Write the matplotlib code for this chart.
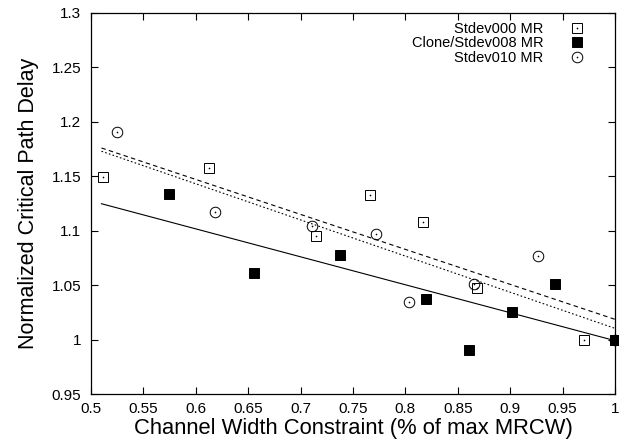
import numpy as np
import matplotlib
matplotlib.use('Agg')
import matplotlib.pyplot as plt
from matplotlib.ticker import FormatStrFormatter

plt.rcParams['font.family'] = ['Liberation Sans', 'DejaVu Sans']

# --- data ---
x000 = [0.511, 0.613, 0.715, 0.766, 0.817, 0.868, 0.970, 1.0]
y000 = [1.149, 1.158, 1.095, 1.133, 1.108, 1.047, 1.000, 1.0]

x008 = [0.574, 0.656, 0.738, 0.820, 0.861, 0.902, 0.943, 1.0]
y008 = [1.134, 1.061, 1.078, 1.037, 0.990, 1.025, 1.051, 1.0]

x010 = [0.525, 0.618, 0.711, 0.772, 0.803, 0.865, 0.9265, 1.0]
y010 = [1.191, 1.1175, 1.104, 1.097, 1.0345, 1.051, 1.077, 1.0]

# trend lines (end points)
fit_x = [0.51, 1.0]
fit000 = [1.176, 1.0186]
fit010 = [1.173, 1.0103]
fit008 = [1.1248, 0.999]

labels = ['Stdev000 MR', 'Clone/Stdev008 MR', 'Stdev010 MR']

fig = plt.figure(figsize=(6.19, 4.45), dpi=100)
ax = fig.add_axes([0.147, 0.1146, 0.8465, 0.8562])

# lines
ax.plot(fit_x, fit000, ls=(0, (4, 3)), c='k', lw=0.8)
ax.plot(fit_x, fit010, ls=(0, (1.5, 2)), c='k', lw=0.8)
ax.plot(fit_x, fit008, ls='-', c='k', lw=0.8)

ms = 7.6
p0, = ax.plot(x000, y000, ls='none', marker='s', ms=ms, mfc='none', mec='k', mew=0.7, clip_on=False)
d0, = ax.plot(x000, y000, ls='none', marker='o', ms=1.2, mfc='k', mec='k', mew=0, clip_on=False)
p1, = ax.plot(x008, y008, ls='none', marker='s', ms=ms, mfc='k', mec='k', mew=0.7, clip_on=False)
p2, = ax.plot(x010, y010, ls='none', marker='o', ms=ms, mfc='none', mec='k', mew=0.7, clip_on=False)
d2, = ax.plot(x010, y010, ls='none', marker='o', ms=1.2, mfc='k', mec='k', mew=0, clip_on=False)

ax.set_xlim(0.5, 1.0)
ax.set_ylim(0.95, 1.3)
ax.set_xticks(np.arange(0.5, 1.001, 0.05))
ax.set_yticks(np.arange(0.95, 1.301, 0.05))
ax.xaxis.set_major_formatter(FormatStrFormatter('%g'))
ax.yaxis.set_major_formatter(FormatStrFormatter('%g'))
ax.tick_params(direction='in', length=5, width=0.8, top=True, right=True, labelsize=11)
ax.tick_params(axis='x', pad=6)
ax.tick_params(axis='y', pad=7)
for s in ax.spines.values():
    s.set_linewidth(0.9)

ax.set_xlabel('Channel Width Constraint (% of max MRCW)', fontsize=15.8, labelpad=1)
ax.set_ylabel('Normalized Critical Path Delay', fontsize=15.5, labelpad=9)

ax.legend([(p0, d0), p1, (p2, d2)], labels, loc='upper right',
          bbox_to_anchor=(0.9414, 0.977), frameon=False, markerfirst=False,
          fontsize=10.5, handlelength=1.0, handletextpad=1.8,
          borderpad=0, borderaxespad=0, labelspacing=0.05)

plt.savefig('out.png', dpi=100)
